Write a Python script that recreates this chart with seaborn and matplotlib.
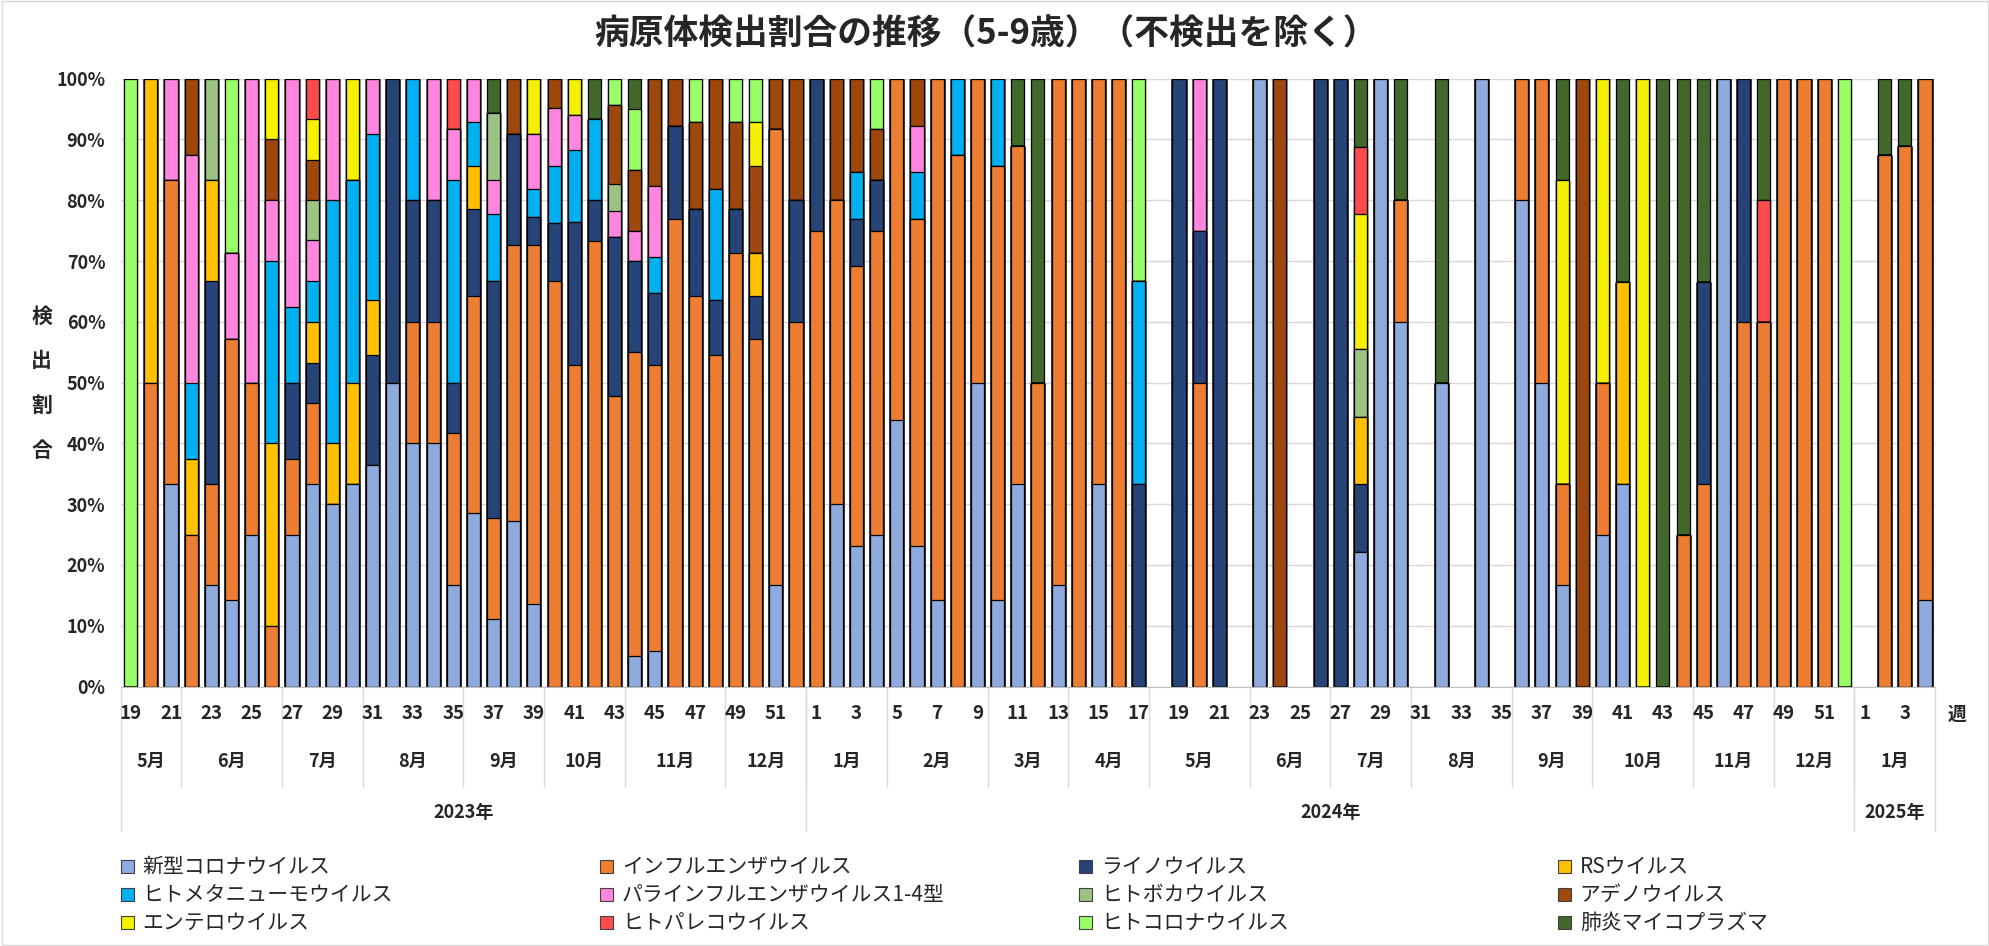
import matplotlib
matplotlib.use('Agg')
import matplotlib.pyplot as plt
from matplotlib.patches import Rectangle
import seaborn as sns
import pandas as pd
import numpy as np

# categories (stack order, bottom -> top) and colours
viruses = ['新型コロナウイルス', 'インフルエンザウイルス', 'ライノウイルス', 'RSウイルス',
           'ヒトメタニューモウイルス', 'パラインフルエンザウイルス1-4型', 'ヒトボカウイルス', 'アデノウイルス',
           'エンテロウイルス', 'ヒトパレコウイルス', 'ヒトコロナウイルス', '肺炎マイコプラズマ']
colors = ['#8FAADC', '#ED7D31', '#264478', '#FFC000', '#00B0F0', '#FF85DF',
          '#9DC382', '#9E480E', '#F5EF00', '#FF4B4B', '#99FF66', '#43682B']

# x axis: week numbers, month groups, year groups
weeks = list(range(19, 53)) + list(range(1, 53)) + list(range(1, 5))
months = [('5月', 3), ('6月', 5), ('7月', 4), ('8月', 5), ('9月', 4), ('10月', 4), ('11月', 5), ('12月', 4),
          ('1月', 4), ('2月', 5), ('3月', 4), ('4月', 4), ('5月', 5), ('6月', 4), ('7月', 4), ('8月', 5),
          ('9月', 4), ('10月', 5), ('11月', 4), ('12月', 4),
          ('1月', 4)]
years = [('2023年', 34), ('2024年', 52), ('2025年', 4)]

# detection share (%) per week, 2023w19 .. 2025w4
covid = ([0, 0, 33.3, 0, 16.7, 14.3, 25, 0, 25, 33.3,
          30, 33.3, 36.4, 50, 40, 40, 16.7, 28.6, 11.1, 27.3,
          13.6, 0, 0, 0, 0, 5, 5.9, 0, 0, 0,
          0, 0, 16.7, 0]
         + [0, 30, 23.1, 25, 43.8, 23.1, 14.3, 0, 50, 14.3,
            33.3, 0, 16.7, 0, 33.3, 0, 0, 0, 0, 0,
            0, 0, 100, 0, 0, 0, 0, 22.2, 100, 60,
            0, 50, 0, 100, 0, 80, 50, 16.7, 0, 25,
            33.3, 0, 0, 0, 0, 100, 0, 0, 0, 0,
            0, 0]
         + [0, 0, 0, 14.3])
flu = ([0, 50, 50, 25, 16.7, 42.8, 25, 10, 12.5, 13.3,
        0, 0, 0, 0, 20, 20, 25, 35.7, 16.7, 45.4,
        59.1, 66.7, 52.9, 73.3, 47.8, 50, 47, 76.9, 64.3, 54.5,
        71.4, 57.1, 75, 60]
       + [75, 50, 46.1, 50, 56.2, 53.8, 85.7, 87.5, 50, 71.4,
          55.6, 50, 83.3, 100, 66.7, 100, 0, 0, 0, 50,
          0, 0, 0, 0, 0, 0, 0, 0, 0, 20,
          0, 0, 0, 0, 0, 20, 50, 16.7, 0, 25,
          0, 0, 0, 25, 33.3, 0, 60, 60, 100, 100,
          100, 0]
       + [0, 87.5, 88.9, 85.7])
rhino = ([0, 0, 0, 0, 33.3, 0, 0, 0, 12.5, 6.7,
          0, 0, 18.1, 50, 20, 20, 8.3, 14.3, 38.9, 18.2,
          4.6, 9.5, 23.5, 6.7, 26.1, 15, 11.8, 15.4, 14.3, 9.1,
          7.2, 7.2, 0, 20]
         + [25, 0, 7.7, 8.3, 0, 0, 0, 0, 0, 0,
            0, 0, 0, 0, 0, 0, 33.3, 0, 100, 25,
            100, 0, 0, 0, 0, 100, 100, 11.1, 0, 0,
            0, 0, 0, 0, 0, 0, 0, 0, 0, 0,
            0, 0, 0, 0, 33.3, 0, 40, 0, 0, 0,
            0, 0]
         + [0, 0, 0, 0])
rsv = ([0, 50, 0, 12.5, 16.6, 0, 0, 30, 0, 6.7,
        10, 16.7, 9.1, 0, 0, 0, 0, 7.1, 0, 0,
        0, 0, 0, 0, 0, 0, 0, 0, 0, 0,
        0, 7.1, 0, 0]
       + [0] * 27 + [11.1] + [0] * 12 + [33.3] + [0] * 11
       + [0, 0, 0, 0])
hmpv = ([0, 0, 0, 12.5, 0, 0, 0, 30, 12.5, 6.7,
         40, 33.3, 27.3, 0, 20, 0, 33.3, 7.2, 11.1, 0,
         4.5, 9.5, 11.8, 13.3, 0, 0, 5.9, 0, 0, 18.2,
         0, 0, 0, 0]
        + [0, 0, 7.7, 0, 0, 7.7, 0, 12.5, 0, 14.3,
           0, 0, 0, 0, 0, 0, 33.4, 0, 0, 0]
        + [0] * 32
        + [0, 0, 0, 0])
para = ([0, 0, 16.7, 37.5, 0, 14.3, 50, 10, 37.5, 6.7,
         20, 0, 9.1, 0, 0, 20, 8.4, 7.1, 5.5, 0,
         9.1, 9.5, 5.9, 0, 4.4, 5, 11.8, 0, 0, 0,
         0, 0, 0, 0]
        + [0, 0, 0, 0, 0, 7.7, 0, 0, 0, 0,
           0, 0, 0, 0, 0, 0, 0, 0, 0, 25]
        + [0] * 32
        + [0, 0, 0, 0])
boca = ([0, 0, 0, 0, 16.7, 0, 0, 0, 0, 6.6,
         0, 0, 0, 0, 0, 0, 0, 0, 11.1, 0,
         0, 0, 0, 0, 4.3, 0, 0, 0, 0, 0,
         0, 0, 0, 0]
        + [0] * 27 + [11.1] + [0] * 24
        + [0, 0, 0, 0])
adeno = ([0, 0, 0, 12.5, 0, 0, 0, 10, 0, 6.7,
          0, 0, 0, 0, 0, 0, 0, 0, 0, 9.1,
          0, 4.8, 0, 0, 13.1, 10, 17.6, 7.7, 14.3, 18.2,
          14.3, 14.3, 8.3, 20]
         + [0, 20, 15.4, 8.4, 0, 7.7, 0, 0, 0, 0]
         + [0] * 13 + [100] + [0] * 14 + [100] + [0] * 13
         + [0, 0, 0, 0])
entero = ([0, 0, 0, 0, 0, 0, 0, 10, 0, 6.7,
           0, 16.7, 0, 0, 0, 0, 0, 0, 0, 0,
           9.1, 0, 5.9, 0, 0, 0, 0, 0, 0, 0,
           0, 7.2, 0, 0]
          + [0] * 27 + [22.2] + [0] * 9 + [50, 0, 50, 0, 100] + [0] * 10
          + [0, 0, 0, 0])
parecho = ([0, 0, 0, 0, 0, 0, 0, 0, 0, 6.6,
            0, 0, 0, 0, 0, 0, 8.3, 0, 0, 0]
           + [0] * 14
           + [0] * 27 + [11.1] + [0] * 19 + [20] + [0] * 4
           + [0, 0, 0, 0])
hcov = ([100, 0, 0, 0, 0, 28.6, 0, 0, 0, 0,
         0, 0, 0, 0, 0, 0, 0, 0, 0, 0,
         0, 0, 0, 0, 4.3, 10, 0, 0, 7.1, 0,
         7.1, 7.1, 0, 0]
        + [0, 0, 0, 8.3, 0, 0, 0, 0, 0, 0,
           0, 0, 0, 0, 0, 0, 33.3, 0, 0, 0]
        + [0] * 31 + [100]
        + [0, 0, 0, 0])
myco = ([0, 0, 0, 0, 0, 0, 0, 0, 0, 0,
         0, 0, 0, 0, 0, 0, 0, 0, 5.6, 0,
         0, 0, 0, 6.7, 0, 5, 0, 0, 0, 0,
         0, 0, 0, 0]
        + [0, 0, 0, 0, 0, 0, 0, 0, 0, 0,
           11.1, 50, 0, 0, 0, 0, 0, 0, 0, 0,
           0, 0, 0, 0, 0, 0, 0, 11.2, 0, 20,
           0, 50, 0, 0, 0, 0, 0, 16.6, 0, 0,
           33.4, 0, 100, 75, 33.4, 0, 0, 20, 0, 0,
           0, 0]
        + [0, 12.5, 11.1, 0])

series = [covid, flu, rhino, rsv, hmpv, para, boca, adeno, entero, parecho, hcov, myco]

df = pd.DataFrame(dict(zip(viruses, series)))
cum = df.cumsum(axis=1)
cum[df.sum(axis=1) == 0] = np.nan
n = len(df)

sns.set_style('white')
plt.rcParams['font.family'] = ['Noto Sans CJK JP', 'DejaVu Sans']

fig = plt.figure(figsize=(19.9, 9.46), dpi=100)
ax = fig.add_axes([0.0606, 0.2743, 0.9118, 0.6425])

# stacked bars: draw cumulative totals from the top category down
for k in reversed(range(len(viruses))):
    sub = pd.DataFrame({'pos': range(n), 'top': cum.iloc[:, k].values})
    sns.barplot(data=sub, x='pos', y='top', order=list(range(n)), color=colors[k],
                saturation=1, edgecolor='black', linewidth=0.9, width=0.65,
                errorbar=None, ax=ax)

ax.set_xlim(-0.5, n - 0.5)
ax.set_ylim(0, 100)
ax.set_yticks(range(0, 101, 10))
ax.set_yticklabels([f'{v}%' for v in range(0, 101, 10)], fontsize=13, fontweight='bold')
ax.tick_params(axis='y', length=0, pad=11)
ax.set_xticks([])
ax.set_xlabel('')
ax.set_ylabel('')
ax.grid(axis='y', color='#D9D9D9', linewidth=1)
ax.set_axisbelow(True)
for s in ['top', 'right', 'left']:
    ax.spines[s].set_visible(False)
ax.spines['bottom'].set_color('#BFBFBF')

# multi-level category axis
tr = ax.get_xaxis_transform()
for i, w in enumerate(weeks):
    if w % 2 == 1:
        ax.text(i, -0.045, str(w), transform=tr, ha='center', va='center',
                fontsize=13.5, fontweight='bold')
ax.text(n + 0.6, -0.045, '週', transform=tr, ha='center', va='center',
        fontsize=13.5, fontweight='bold')

start = 0
for label, cnt in months:
    ax.text(start + (cnt - 1) / 2, -0.123, label, transform=tr, ha='center', va='center',
            fontsize=13, fontweight='bold')
    if start > 0:
        ax.plot([start - 0.5] * 2, [0, -0.165], transform=tr, color='#D9D9D9',
                linewidth=1, clip_on=False)
    start += cnt

start = 0
for label, cnt in years:
    ax.text(start + (cnt - 1) / 2, -0.2065, label, transform=tr, ha='center', va='center',
            fontsize=13, fontweight='bold')
    ax.plot([start - 0.5] * 2, [0, -0.238], transform=tr, color='#D9D9D9',
            linewidth=1, clip_on=False)
    start += cnt
ax.plot([n - 0.5] * 2, [0, -0.238], transform=tr, color='#D9D9D9', linewidth=1, clip_on=False)

# title and stacked y label
fig.text(0.4955, 0.964, '病原体検出割合の推移（5-9歳）（不検出を除く）', ha='center', va='center',
         fontsize=25, fontweight='bold')
fig.text(0.021, 0.595, '検\n出\n割\n合', ha='center', va='center', fontsize=15,
         fontweight='bold', linespacing=2.4)

# legend, 4 columns x 3 rows
col_x = [0.0606, 0.3015, 0.5422, 0.7829]
row_y = [0.0835, 0.0539, 0.0243]
for k, (name, c) in enumerate(zip(viruses, colors)):
    x0, y0 = col_x[k % 4], row_y[k // 4]
    fig.add_artist(Rectangle((x0, y0 - 0.0068), 0.0065, 0.0137, transform=fig.transFigure,
                             facecolor=c, edgecolor='#404040', linewidth=0.8))
    fig.text(x0 + 0.011, y0, name, ha='left', va='center', fontsize=15)

fig.add_artist(Rectangle((0.001, 0.001), 0.998, 0.998, transform=fig.transFigure,
                         fill=False, edgecolor='#D9D9D9', linewidth=1))

fig.savefig('out.png', dpi=100)
